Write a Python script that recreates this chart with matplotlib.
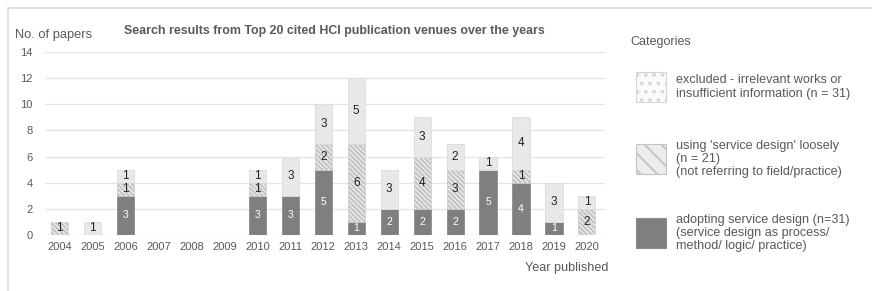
import numpy as np
import matplotlib.pyplot as plt
from matplotlib.patches import Rectangle

plt.rcParams['font.family'] = ['Liberation Sans', 'DejaVu Sans']
plt.rcParams['hatch.linewidth'] = 1.4

years = [str(y) for y in range(2004, 2021)]
# papers per year for each category
adopting = [0, 0, 3, 0, 0, 0, 3, 3, 5, 1, 2, 2, 2, 5, 4, 1, 0]
loosely = [1, 0, 1, 0, 0, 0, 1, 0, 2, 6, 0, 4, 3, 0, 1, 0, 2]
excluded = [0, 1, 1, 0, 0, 0, 1, 3, 3, 5, 3, 3, 2, 1, 4, 3, 1]

cat_labels = ["excluded - irrelevant works or\ninsufficient information (n = 31)",
              "using 'service design' loosely\n(n = 21)\n(not referring to field/practice)",
              "adopting service design (n=31)\n(service design as process/\nmethod/ logic/ practice)"]

txt = '#595959'
fig = plt.figure(figsize=(8.72, 2.91), dpi=100)
ax = fig.add_axes([45/872, 1 - 235/291, 560/872, 183/291])

x = np.arange(len(years))
w = 0.52
a = np.array(adopting)
l = np.array(loosely)
e = np.array(excluded)

# dark bars
b1 = ax.bar(x, a, w, color='#7f7f7f', edgecolor='#8c8c8c', linewidth=0.6, zorder=3)
# striped bars: hatch first, then outline on top
b2 = ax.bar(x, l, w, bottom=a, color='#ededed', edgecolor='#c2c2c2', hatch='\\' * 7,
            linewidth=0, zorder=3)
ax.bar(x, l, w, bottom=a, fill=False, edgecolor='#d0d0d0', linewidth=0.6, zorder=4)
# dotted bars
b3 = ax.bar(x, e, w, bottom=a + l, color='#f8f8f8', edgecolor='#e0e0e0', hatch='.' * 8,
            linewidth=0, zorder=3)
ax.bar(x, e, w, bottom=a + l, fill=False, edgecolor='#dcdcdc', linewidth=0.6, zorder=4)

def lab(vals):
    return [str(v) if v > 0 else '' for v in vals]

ax.bar_label(b1, labels=lab(adopting), label_type='center', color='white', fontsize=7.5, zorder=5)
ax.bar_label(b2, labels=lab(loosely), label_type='center', color='#222222', fontsize=8.5, zorder=5)
ax.bar_label(b3, labels=lab(excluded), label_type='center', color='#222222', fontsize=8.5, zorder=5)

ax.set_xlim(-0.45, len(years) - 0.45)
ax.set_ylim(0, 14)
ax.set_yticks(range(0, 15, 2))
ax.set_xticks(x)
ax.set_xticklabels(years)
ax.tick_params(length=0, colors=txt, labelsize=8, pad=5)
ax.tick_params(axis='y', pad=9)
ax.grid(axis='y', color='#e3e3e3', linewidth=0.9, zorder=0)
for s in ax.spines.values():
    s.set_visible(False)

fig.text(15/872, 1 - 35/291, 'No. of papers', color=txt, fontsize=9.3, va='center')
fig.text(334.5/872, 1 - 31/291, 'Search results from Top 20 cited HCI publication venues over the years',
         color=txt, fontsize=8.9, fontweight='bold', ha='center', va='center')
fig.text(608/872, 1 - 268/291, 'Year published', color=txt, fontsize=9.1, ha='right', va='center')

# legend
fig.text(630/872, 1 - 42/291, 'Categories', color=txt, fontsize=9, va='center')
leg = [dict(fc='#fafafa', ec='#d6d6d6', hatch='..'),
       dict(fc='#ededed', ec='#c4c4c4', hatch='\\\\'),
       dict(fc='#7f7f7f', ec='#8c8c8c', hatch=None)]
centers = [87, 159, 233]
for st, cy, t in zip(leg, centers, cat_labels):
    fig.add_artist(Rectangle((636/872, 1 - (cy + 15)/291), 30/872, 30/291,
                             transform=fig.transFigure, facecolor=st['fc'],
                             edgecolor=st['ec'], hatch=st['hatch'], linewidth=0.8))
    fig.text(676/872, 1 - cy/291, t, color=txt, fontsize=9.1, va='center', linespacing=1.15)

# outer frame
fig.add_artist(Rectangle((8/872, -0.1), 1.0, 1 - 8/291 + 0.1, transform=fig.transFigure,
                         fill=False, edgecolor='#d9d9d9', linewidth=1.2))

fig.savefig('out.png', dpi=100)
